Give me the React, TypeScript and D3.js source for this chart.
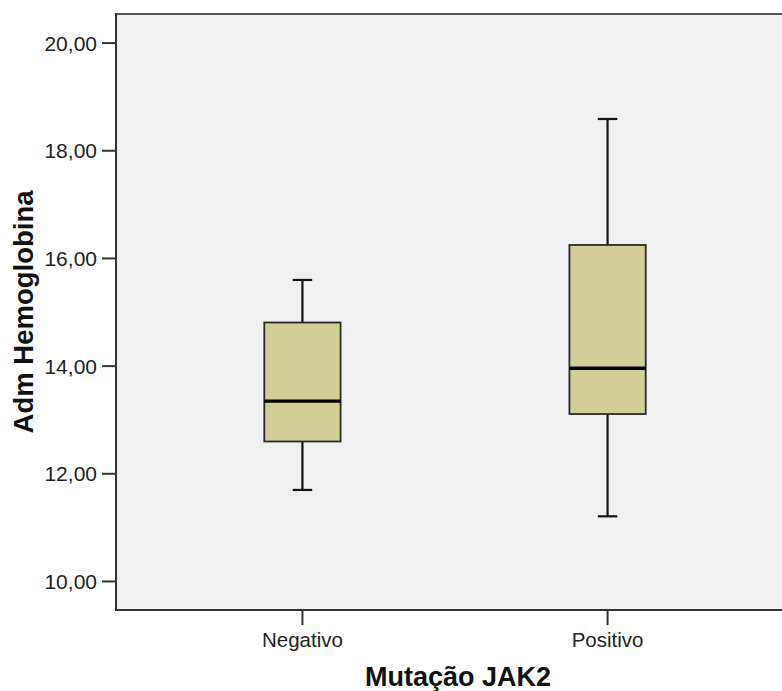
import React from 'react';
import * as d3 from 'd3';

// values
const categories = ['Negativo', 'Positivo'];
const lowerWhisker = [11.7, 11.21];
const q1 = [12.6, 13.11];
const median = [13.35, 13.96];
const q3 = [14.81, 16.25];
const upperWhisker = [15.6, 18.59];
const yTicks = [10, 12, 14, 16, 18, 20];

const yTitle = 'Adm Hemoglobina';
const xTitle = 'Mutação JAK2';

const W = 782;
const H = 691;
const left = 116;
const top = 14;
const bottom = 610;
const right = 794; // plot runs past the visible edge

const font = '"Liberation Sans", Arial, sans-serif';

export default function App() {
  const x = d3.scalePoint<string>().domain(categories).range([left, right]).padding(0.611);
  const y = d3.scaleLinear().domain([9.47, 20.54]).range([bottom, top]);
  const fmt = (v: number) => d3.format('.2f')(v).replace('.', ',');

  const boxW = x.step() * 0.25;
  const capW = 19.5;

  return (
    <svg
      width={W}
      height={H}
      style={{ position: 'absolute', left: 0, top: 0, background: '#fff' }}
    >
      <rect x={left} y={top} width={right - left} height={bottom - top} fill="#f0f0f0" />
      {/* frame */}
      <line x1={left} x2={right} y1={top} y2={top} stroke="#555" strokeWidth={2} />
      <line x1={left} x2={left} y1={top - 1} y2={bottom + 1} stroke="#333" strokeWidth={2} />
      <line x1={left - 1} x2={right} y1={bottom} y2={bottom} stroke="#333" strokeWidth={2} />

      {/* y axis */}
      {yTicks.map((t) => (
        <g key={t}>
          <line x1={left - 14} x2={left} y1={y(t)} y2={y(t)} stroke="#333" strokeWidth={2} />
          <text
            x={left - 19}
            y={y(t)}
            dy="0.36em"
            textAnchor="end"
            fontFamily={font}
            fontSize={21}
            fill="#222"
          >
            {fmt(t)}
          </text>
        </g>
      ))}

      {/* x axis */}
      {categories.map((c) => (
        <g key={c}>
          <line x1={x(c)} x2={x(c)} y1={bottom} y2={bottom + 15} stroke="#333" strokeWidth={2} />
          <text
            x={x(c)}
            y={647}
            textAnchor="middle"
            fontFamily={font}
            fontSize={20.5}
            fill="#222"
          >
            {c}
          </text>
        </g>
      ))}

      {/* boxes */}
      {categories.map((c, i) => {
        const cx = x(c) as number;
        return (
          <g key={c}>
            <line x1={cx} x2={cx} y1={y(upperWhisker[i])} y2={y(q3[i])} stroke="#111" strokeWidth={2.2} />
            <line x1={cx} x2={cx} y1={y(q1[i])} y2={y(lowerWhisker[i])} stroke="#111" strokeWidth={2.2} />
            <line
              x1={cx - capW / 2}
              x2={cx + capW / 2}
              y1={y(upperWhisker[i])}
              y2={y(upperWhisker[i])}
              stroke="#111"
              strokeWidth={2.2}
            />
            <line
              x1={cx - capW / 2}
              x2={cx + capW / 2}
              y1={y(lowerWhisker[i])}
              y2={y(lowerWhisker[i])}
              stroke="#111"
              strokeWidth={2.2}
            />
            <rect
              x={cx - boxW / 2}
              y={y(q3[i])}
              width={boxW}
              height={y(q1[i]) - y(q3[i])}
              fill="#d3ce97"
              stroke="#2a2a2a"
              strokeWidth={1.8}
            />
            <line
              x1={cx - boxW / 2}
              x2={cx + boxW / 2}
              y1={y(median[i])}
              y2={y(median[i])}
              stroke="#000"
              strokeWidth={3.4}
            />
          </g>
        );
      })}

      {/* titles */}
      <text
        transform={`translate(33,${(top + bottom) / 2}) rotate(-90)`}
        textAnchor="middle"
        fontFamily={font}
        fontWeight="bold"
        fontSize={27.5}
        fill="#111"
      >
        {yTitle}
      </text>
      <text
        x={458}
        y={686}
        textAnchor="middle"
        fontFamily={font}
        fontWeight="bold"
        fontSize={27}
        fill="#111"
      >
        {xTitle}
      </text>
    </svg>
  );
}
